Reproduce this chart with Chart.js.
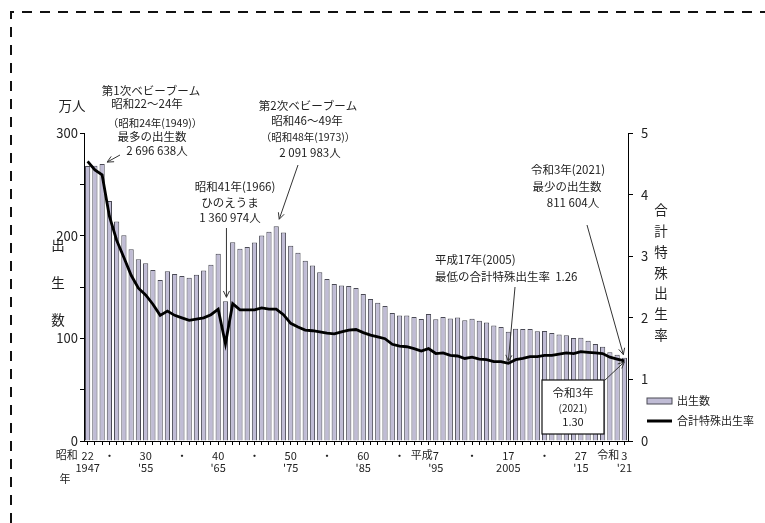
<!DOCTYPE html>
<html><head><meta charset="utf-8">
<script src="https://cdn.jsdelivr.net/npm/chart.js@4"></script>
<style>html,body{margin:0;padding:0;background:#fff}#wrap{width:765px;height:523px;position:relative}</style>
</head><body><div id="wrap"><canvas id="c"></canvas></div>
<script>
const years = [1947,1948,1949,1950,1951,1952,1953,1954,1955,1956,1957,1958,1959,1960,1961,1962,1963,1964,1965,1966,1967,1968,1969,1970,1971,1972,1973,1974,1975,1976,1977,1978,1979,1980,1981,1982,1983,1984,1985,1986,1987,1988,1989,1990,1991,1992,1993,1994,1995,1996,1997,1998,1999,2000,2001,2002,2003,2004,2005,2006,2007,2008,2009,2010,2011,2012,2013,2014,2015,2016,2017,2018,2019,2020,2021];
// 出生数（万人）
const births = [267.9,268.2,269.7,233.8,213.8,200.5,186.8,177.0,173.1,166.5,156.7,165.3,162.6,160.6,158.9,161.9,166.0,171.7,182.4,136.1,193.6,187.2,188.9,193.4,200.1,203.9,209.2,203.0,190.1,183.3,175.5,170.9,164.3,157.7,152.9,151.5,150.9,149.0,143.2,138.3,134.7,131.4,124.7,122.2,122.3,120.9,118.8,123.8,118.7,120.7,119.2,120.3,117.7,119.1,117.1,115.4,112.4,111.1,106.3,109.3,109.0,109.1,107.0,107.1,105.1,103.7,103.0,100.4,100.6,97.7,94.6,91.8,86.5,84.1,81.2];
// 合計特殊出生率
const tfr = [4.54,4.40,4.32,3.65,3.26,2.98,2.69,2.48,2.37,2.22,2.04,2.11,2.04,2.00,1.96,1.98,2.00,2.05,2.14,1.58,2.23,2.13,2.13,2.13,2.16,2.14,2.14,2.05,1.91,1.85,1.80,1.79,1.77,1.75,1.74,1.77,1.80,1.81,1.76,1.72,1.69,1.66,1.57,1.54,1.53,1.50,1.46,1.50,1.42,1.43,1.39,1.38,1.34,1.36,1.33,1.32,1.29,1.29,1.26,1.32,1.34,1.37,1.37,1.39,1.39,1.41,1.43,1.42,1.45,1.44,1.43,1.42,1.36,1.33,1.30];
const tickYears = [1947,1950,1955,1960,1965,1970,1975,1980,1985,1990,1995,2000,2005,2010,2015,2021];
const tickRow1 = ['22','・','30','・','40','・','50','・','60','・','7','・','17','・','27','3'];
const tickRow2 = ['1947','',"'55",'',"'65",'',"'75",'',"'85",'',"'95",'','2005','',"'15","'21"];

const FONT = '"Noto Sans CJK JP", "Noto Sans", sans-serif';
const BAR_FILL = '#c0bcd5';
const BAR_EDGE = '#4a4a55';

function arrow(ctx, x1, y1, x2, y2) {
  ctx.save();
  ctx.strokeStyle = '#333'; ctx.lineWidth = 1;
  ctx.beginPath(); ctx.moveTo(x1, y1); ctx.lineTo(x2, y2); ctx.stroke();
  const a = Math.atan2(y2 - y1, x2 - x1), L = 7, s = 0.45;
  ctx.beginPath();
  ctx.moveTo(x2 - L * Math.cos(a - s), y2 - L * Math.sin(a - s));
  ctx.lineTo(x2, y2);
  ctx.lineTo(x2 - L * Math.cos(a + s), y2 - L * Math.sin(a + s));
  ctx.stroke();
  ctx.restore();
}
function txt(ctx, s, x, y, size, align) {
  ctx.font = size + 'px ' + FONT;
  ctx.textAlign = align || 'center';
  ctx.textBaseline = 'middle';
  ctx.fillStyle = '#222';
  ctx.fillText(s, x, y);
}

const decor = {
  id: 'decor',
  afterDraw(chart) {
    const ctx = chart.ctx, xs = chart.scales.x, yl = chart.scales.y, yr = chart.scales.y2;
    const idx = yr2 => years.indexOf(yr2);
    ctx.save();
    // dashed frame
    ctx.strokeStyle = '#111'; ctx.lineWidth = 2; ctx.setLineDash([10, 8]);
    ctx.beginPath(); ctx.moveTo(11, 523); ctx.lineTo(11, 12); ctx.lineTo(765, 12); ctx.stroke();
    ctx.setLineDash([]);

    // axis titles
    txt(ctx, '万人', 72, 106, 13.5);
    txt(ctx, '出', 58, 245, 13.5); txt(ctx, '生', 58, 283, 13.5); txt(ctx, '数', 58, 320, 13.5);
    const rt = '合計特殊出生率';
    for (let i = 0; i < rt.length; i++) txt(ctx, rt[i], 661, 210 + i * 20.8, 13.5);

    // era prefixes & 年
    const rowY = 455;
    txt(ctx, '昭和', xs.getPixelForValue(idx(1947)) - 21, rowY, 11);
    txt(ctx, '平成', xs.getPixelForValue(idx(1995)) - 14, rowY, 11);
    txt(ctx, '令和', xs.getPixelForValue(idx(2021)) - 16, rowY, 11);
    txt(ctx, '年', 65, 479, 11);

    // 1st baby boom
    txt(ctx, '第1次ベビーブーム', 151, 91, 11.5);
    txt(ctx, '昭和22～24年', 147, 104, 11.5);
    txt(ctx, '（昭和24年(1949)）', 155, 123, 10.5);
    txt(ctx, '最多の出生数', 152, 137, 11.5);
    txt(ctx, '2 696 638人', 157, 151, 11.5);
    let i1 = idx(1949);
    arrow(ctx, 120, 155, xs.getPixelForValue(i1) + 5, yl.getPixelForValue(births[i1]) - 2);

    // 2nd baby boom
    txt(ctx, '第2次ベビーブーム', 308, 106, 11.5);
    txt(ctx, '昭和46～49年', 307, 121, 11.5);
    txt(ctx, '（昭和48年(1973)）', 308, 137, 10.5);
    txt(ctx, '2 091 983人', 310, 153, 11.5);
    let i2 = idx(1973);
    arrow(ctx, 298, 165, xs.getPixelForValue(i2) + 3, yl.getPixelForValue(births[i2]) - 7);

    // hinoeuma
    txt(ctx, '昭和41年(1966)', 235, 187, 11.5);
    txt(ctx, 'ひのえうま', 230, 203, 11.5);
    txt(ctx, '1 360 974人', 230, 218, 11.5);
    let i3 = idx(1966);
    arrow(ctx, xs.getPixelForValue(i3) + 1, 228, xs.getPixelForValue(i3) + 1, yl.getPixelForValue(births[i3]) - 4);

    // lowest TFR
    txt(ctx, '平成17年(2005)', 435, 260, 11.5, 'left');
    txt(ctx, '最低の合計特殊出生率  1.26', 435, 277, 11.5, 'left');
    let i4 = idx(2005);
    arrow(ctx, 515, 287, xs.getPixelForValue(i4), yr.getPixelForValue(tfr[i4]) - 2);

    // fewest births
    txt(ctx, '令和3年(2021)', 568, 170, 11.5);
    txt(ctx, '最少の出生数', 567, 187, 11.5);
    txt(ctx, '811 604人', 573, 203, 11.5);
    let i5 = idx(2021);
    arrow(ctx, 587, 225, xs.getPixelForValue(i5) - 1, yl.getPixelForValue(births[i5]) - 3);

    // box 2021 TFR
    ctx.fillStyle = '#fff'; ctx.strokeStyle = '#111'; ctx.lineWidth = 1.2;
    ctx.fillRect(542, 380, 62, 54); ctx.strokeRect(542, 380, 62, 54);
    txt(ctx, '令和3年', 573, 393, 11.5);
    txt(ctx, '(2021)', 573, 408, 10);
    txt(ctx, '1.30', 573, 422, 11);
    arrow(ctx, 604, 381, xs.getPixelForValue(i5), yr.getPixelForValue(tfr[i5]) + 1);

    // legend
    ctx.fillStyle = BAR_FILL; ctx.strokeStyle = BAR_EDGE; ctx.lineWidth = 1;
    ctx.fillRect(647, 398, 25, 6); ctx.strokeRect(647, 398, 25, 6);
    txt(ctx, '出生数', 677, 401, 11, 'left');
    ctx.strokeStyle = '#000'; ctx.lineWidth = 3;
    ctx.beginPath(); ctx.moveTo(647, 421); ctx.lineTo(672, 421); ctx.stroke();
    txt(ctx, '合計特殊出生率', 677, 421, 11, 'left');
    ctx.restore();
  }
};

new Chart(document.getElementById('c'), {
  data: {
    labels: years,
    datasets: [
      { type: 'line', label: '合計特殊出生率', data: tfr, yAxisID: 'y2', borderColor: '#000', borderWidth: 2.8, pointRadius: 0, tension: 0, order: 0 },
      { type: 'bar', label: '出生数', data: births, yAxisID: 'y', backgroundColor: BAR_FILL, borderColor: BAR_EDGE, borderWidth: 1, barPercentage: 0.72, categoryPercentage: 1, order: 1 }
    ]
  },
  options: {
    responsive: true, maintainAspectRatio: false, animation: false,
    layout: { padding: { top: 133, left: 0, right: 0, bottom: 0 } },
    plugins: { legend: { display: false }, tooltip: { enabled: false } },
    scales: {
      x: {
        type: 'category', offset: true,
        grid: { display: true, drawOnChartArea: false, tickLength: 4, color: '#000', offset: false },
        border: { display: true, color: '#000', width: 1 },
        ticks: {
          autoSkip: false, maxRotation: 0, minRotation: 0, padding: 5, color: '#222',
          font: { family: FONT, size: 11, lineHeight: 1.1 },
          callback: function (v, i) { const k = tickYears.indexOf(years[i]); return k < 0 ? '' : (tickRow2[k] ? [tickRow1[k], tickRow2[k]] : tickRow1[k]); }
        },
        afterFit: s => { s.height = 82; }
      },
      y: {
        position: 'left', min: 0, max: 300,
        grid: { drawOnChartArea: false, tickLength: 4, color: '#000' },
        border: { display: true, color: '#000', width: 1 },
        ticks: { stepSize: 50, padding: 2, color: '#222', font: { family: FONT, size: 13 }, callback: v => (v % 100 === 0 ? v : '') },
        afterFit: s => { s.width = 84; }
      },
      y2: {
        position: 'right', min: 0, max: 5,
        grid: { drawOnChartArea: false, tickLength: 5, color: '#000' },
        border: { display: true, color: '#000', width: 1 },
        ticks: { stepSize: 1, padding: 8, color: '#222', font: { family: FONT, size: 13 } },
        afterFit: s => { s.width = 137; }
      }
    }
  },
  plugins: [decor]
});
</script>
</body></html>
